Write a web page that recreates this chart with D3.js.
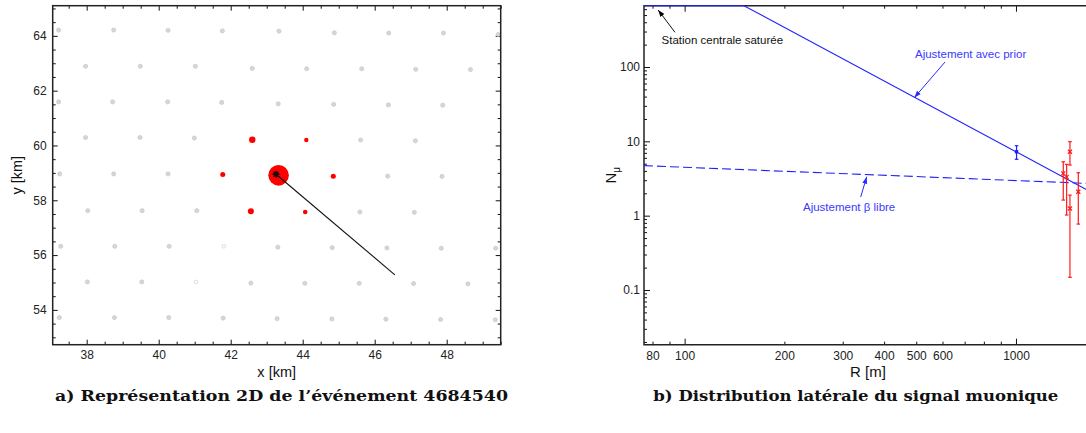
<!DOCTYPE html>
<html><head><meta charset="utf-8">
<script src="https://cdn.jsdelivr.net/npm/d3@7"></script>
<style>
html,body{margin:0;padding:0;background:#fff;}
svg{display:block;font-family:"Liberation Sans",Arial,sans-serif;}
</style></head>
<body>
<svg id="c" width="1086" height="433"></svg>
<script>
// ---------- Panel a data (km) ----------
const gridStationsX = [37.22,38.75,40.26,41.77,43.34,44.88,46.39,47.91,49.43,
  37.97,39.49,41.02,42.60,44.11,45.64,47.14,48.66,
  37.22,38.72,40.25,41.75,43.32,44.86,46.38,47.89,
  37.97,39.48,40.99,45.61,47.13,
  37.25,38.75,40.26,46.36,47.87,
  38.03,39.54,41.06,45.59,47.10,
  37.28,38.78,40.29,43.31,44.82,46.34,47.85,49.36,
  38.02,39.53,42.56,44.06,45.57,47.08,48.59,
  37.24,38.77,40.28,41.79,43.29,44.81,46.31,47.83,49.35];
const gridStationsY = [64.21,64.21,64.20,64.18,64.17,64.11,64.10,64.10,64.05,
  62.89,62.89,62.89,62.81,62.80,62.80,62.78,62.77,
  61.59,61.59,61.59,61.57,61.52,61.50,61.48,61.47,
  60.29,60.29,60.27,60.20,60.17,
  58.96,58.96,58.96,58.88,58.87,
  57.62,57.62,57.62,57.57,57.56,
  56.32,56.32,56.32,56.29,56.27,56.26,56.25,56.25,
  55.02,55.02,54.98,54.97,54.97,54.96,54.95,
  53.72,53.72,53.72,53.70,53.68,53.67,53.66,53.65,53.64];
const silentStationsX = [41.81, 41.04];
const silentStationsY = [56.32, 55.02];
const hitStationsX = [42.60, 44.10, 41.78, 43.33, 44.85, 42.56, 44.07];
const hitStationsY = [60.21, 60.20, 58.94, 58.91, 58.88, 57.60, 57.57];
const hitSignals   = [20, 9, 12, 200, 12, 17, 10];
const coreXY = [43.26, 58.95];
const axisEndXY = [46.56, 55.28];
const xTicksA = [38, 40, 42, 44, 46, 48];
const yTicksA = [54, 56, 58, 60, 62, 64];

// ---------- Panel b data ----------
const redR  = [1389, 1422, 1455, 1455, 1542];
const redN  = [3.71, 3.30, 7.25, 1.25, 2.10];
const redLo = [1.62, 1.02, 4.80, 0.148, 0.77];
const redHi = [5.31, 4.90, 9.90, 1.89, 3.78];
const blueR  = [1004];
const blueN  = [7.24];
const blueLo = [5.73];
const blueHi = [8.73];
const fitPriorR = [75.4, 151, 1696];
const fitPriorN = [668, 668, 2.05];
const fitFreeR = [75.4, 1696];
const fitFreeN = [4.71, 2.70];
const xTicksB = [80, 100, 200, 300, 400, 500, 600, 1000];
const xMinorB = [90, 700, 800, 900];
const yTicksB = [0.1, 1, 10, 100];

const SANS = "'Liberation Sans',Arial,sans-serif";
const SERIF = "'DejaVu Serif','Liberation Serif',serif";

const svg = d3.select("#c");
svg.append("rect").attr("width",1086).attr("height",433).attr("fill","#fff");

const defs = svg.append("defs");
function marker(id, color){
  defs.append("marker").attr("id",id).attr("viewBox","0 0 10 10")
    .attr("refX",10).attr("refY",5).attr("markerWidth",7).attr("markerHeight",7)
    .attr("markerUnits","userSpaceOnUse").attr("orient","auto")
    .append("path").attr("d","M0,1.5 L10,5 L0,8.5 Z").attr("fill",color);
}
marker("ahBlack","#000");
marker("ahBlue","#2a2aff");

// ================= Panel a =================
const A = {l:52.7, r:500.7, t:5.7, b:344.7};
const xa = d3.scaleLinear().domain([37.056, 49.5]).range([A.l, A.r]);
const ya = d3.scaleLinear().domain([52.73, 65.1]).range([A.b, A.t]);
const ga = svg.append("g");

function minorRange(a,b,s){const o=[];for(let v=a;v<=b+1e-9;v+=s)o.push(+v.toFixed(3));return o;}
const xMinorA = minorRange(37.5,49.5,0.5).filter(v=>!xTicksA.includes(v));
const yMinorA = minorRange(53,65,0.5).filter(v=>!yTicksA.includes(v));

function styleAxis(g, size){
  g.select(".domain").remove();
  g.selectAll(".tick line").attr("stroke","#111").attr("stroke-width",1);
  g.selectAll(".tick text").attr("fill","#222").style("font-size",size+"px")
   .style("font-family",SANS);
}
let g;
g = ga.append("g").attr("transform",`translate(0,${A.b})`).call(d3.axisBottom(xa).tickValues(xTicksA).tickSize(-5).tickPadding(6).tickFormat(d3.format("d"))); styleAxis(g,12);
g = ga.append("g").attr("transform",`translate(0,${A.b})`).call(d3.axisBottom(xa).tickValues(xMinorA).tickSize(-3).tickFormat("")); styleAxis(g,12);
g = ga.append("g").attr("transform",`translate(0,${A.t})`).call(d3.axisTop(xa).tickValues(xTicksA).tickSize(-5).tickFormat("")); styleAxis(g,12);
g = ga.append("g").attr("transform",`translate(0,${A.t})`).call(d3.axisTop(xa).tickValues(xMinorA).tickSize(-3).tickFormat("")); styleAxis(g,12);
g = ga.append("g").attr("transform",`translate(${A.l},0)`).call(d3.axisLeft(ya).tickValues(yTicksA).tickSize(-5).tickPadding(6).tickFormat(d3.format("d"))); styleAxis(g,12);
g = ga.append("g").attr("transform",`translate(${A.l},0)`).call(d3.axisLeft(ya).tickValues(yMinorA).tickSize(-3).tickFormat("")); styleAxis(g,12);
g = ga.append("g").attr("transform",`translate(${A.r},0)`).call(d3.axisRight(ya).tickValues(yTicksA).tickSize(-5).tickFormat("")); styleAxis(g,12);
g = ga.append("g").attr("transform",`translate(${A.r},0)`).call(d3.axisRight(ya).tickValues(yMinorA).tickSize(-3).tickFormat("")); styleAxis(g,12);

// stations
ga.append("g").selectAll("circle").data(d3.range(gridStationsX.length)).join("circle")
  .attr("cx",i=>xa(gridStationsX[i])).attr("cy",i=>ya(gridStationsY[i])).attr("r",2.1)
  .attr("fill","#d6d6d6").attr("stroke","#c4c4c4").attr("stroke-width",0.6);
ga.append("g").selectAll("circle").data(d3.range(silentStationsX.length)).join("circle")
  .attr("cx",i=>xa(silentStationsX[i])).attr("cy",i=>ya(silentStationsY[i])).attr("r",1.8)
  .attr("fill","#fff").attr("stroke","#cfcfcf").attr("stroke-width",0.7);
const rScale = d3.scaleSqrt().domain([0,200]).range([0,10.3]);
ga.append("g").selectAll("circle").data(d3.range(hitStationsX.length)).join("circle")
  .attr("cx",i=>xa(hitStationsX[i])).attr("cy",i=>ya(hitStationsY[i])).attr("r",i=>rScale(hitSignals[i]))
  .attr("fill","#ff0000");
ga.append("line").attr("x1",xa(coreXY[0])).attr("y1",ya(coreXY[1]))
  .attr("x2",xa(axisEndXY[0])).attr("y2",ya(axisEndXY[1])).attr("stroke","#111").attr("stroke-width",1.1);
const cx0 = xa(coreXY[0]), cy0 = ya(coreXY[1]);
ga.append("path").attr("d",`M${cx0-3.5},${cy0}H${cx0+3.5}M${cx0},${cy0-3.5}V${cy0+3.5}M${cx0-2.5},${cy0-2.5}L${cx0+2.5},${cy0+2.5}M${cx0-2.5},${cy0+2.5}L${cx0+2.5},${cy0-2.5}`)
  .attr("stroke","#111").attr("stroke-width",1.3);
ga.append("rect").attr("x",A.l).attr("y",A.t).attr("width",A.r-A.l).attr("height",A.b-A.t)
  .attr("fill","none").attr("stroke","#222").attr("stroke-width",1.5);
ga.append("text").attr("x",(A.l+A.r)/2).attr("y",377).attr("text-anchor","middle").style("font-size","14.5px").style("font-family",SANS).attr("fill","#111").text("x [km]");
ga.append("text").attr("transform",`translate(22,${(A.t+A.b)/2}) rotate(-90)`).attr("text-anchor","middle").style("font-size","14.5px").style("font-family",SANS).attr("fill","#111").text("y [km]");

// ================= Panel b =================
const B = {l:644, r:1092, t:5.7, b:344.7};
const xb = d3.scaleLog().domain([75.4, 1696]).range([B.l, B.r]);
const yb = d3.scaleLog().domain([0.01836, 668]).range([B.b, B.t]);
const gb = svg.append("g");
const xMajorLong = [100, 1000];
const xShort = xTicksB.filter(v=>!xMajorLong.includes(v)).concat(xMinorB);
const yMinorB = [];
[0.01,0.1,1,10,100].forEach(p=>{for(let k=2;k<=9;k++){const v=+(p*k).toPrecision(3); if(v>0.01836 && v<668) yMinorB.push(v);}});
const fmtB = d=> d<1 ? String(d) : d3.format("d")(d);

g = gb.append("g").attr("transform",`translate(0,${B.b})`).call(d3.axisBottom(xb).tickValues(xTicksB).tickSize(0).tickPadding(7).tickFormat(fmtB)); styleAxis(g,12);
g = gb.append("g").attr("transform",`translate(0,${B.b})`).call(d3.axisBottom(xb).tickValues(xMajorLong).tickSize(-6).tickFormat("")); styleAxis(g,12);
g = gb.append("g").attr("transform",`translate(0,${B.b})`).call(d3.axisBottom(xb).tickValues(xShort).tickSize(-3).tickFormat("")); styleAxis(g,12);
g = gb.append("g").attr("transform",`translate(0,${B.t})`).call(d3.axisTop(xb).tickValues(xMajorLong).tickSize(-6).tickFormat("")); styleAxis(g,12);
g = gb.append("g").attr("transform",`translate(0,${B.t})`).call(d3.axisTop(xb).tickValues(xShort).tickSize(-3).tickFormat("")); styleAxis(g,12);
g = gb.append("g").attr("transform",`translate(${B.l},0)`).call(d3.axisLeft(yb).tickValues(yTicksB).tickSize(-6).tickPadding(4).tickFormat(fmtB)); styleAxis(g,12);
g = gb.append("g").attr("transform",`translate(${B.l},0)`).call(d3.axisLeft(yb).tickValues(yMinorB).tickSize(-3).tickFormat("")); styleAxis(g,12);

gb.append("path").attr("d",`M${B.r},${B.t}H${B.l}V${B.b}H${B.r}`).attr("fill","none").attr("stroke","#222").attr("stroke-width",1.5);

const lineB = d3.line().x(d=>xb(d[0])).y(d=>yb(d[1]));
gb.append("path").datum(fitPriorR.map((r,i)=>[r,fitPriorN[i]])).attr("d",lineB)
  .attr("fill","none").attr("stroke","#2020ff").attr("stroke-width",1.1);
gb.append("path").datum(fitFreeR.map((r,i)=>[r,fitFreeN[i]])).attr("d",lineB)
  .attr("fill","none").attr("stroke","#2020ff").attr("stroke-width",1.1).attr("stroke-dasharray","9,4");

function errBars(R,N,Lo,Hi,color,mk){
  const gg = gb.append("g");
  R.forEach((r,i)=>{
    const x = xb(r);
    gg.append("line").attr("x1",x).attr("x2",x).attr("y1",yb(Lo[i])).attr("y2",yb(Hi[i])).attr("stroke",color).attr("stroke-width",1.2);
    [Lo[i],Hi[i]].forEach(v=>gg.append("line").attr("x1",x-1.8).attr("x2",x+1.8).attr("y1",yb(v)).attr("y2",yb(v)).attr("stroke",color).attr("stroke-width",1.2));
    const y = yb(N[i]);
    if(mk==="x"){
      gg.append("path").attr("d",`M${x-2},${y-2}L${x+2},${y+2}M${x-2},${y+2}L${x+2},${y-2}`).attr("stroke",color).attr("stroke-width",1.3);
    } else {
      gg.append("rect").attr("x",x-1.7).attr("y",y-1.7).attr("width",3.4).attr("height",3.4).attr("fill",color);
    }
  });
}
errBars(blueR,blueN,blueLo,blueHi,"#2020ff","s");
errBars(redR,redN,redLo,redHi,"#ff1a1a","x");

gb.append("line").attr("x1",xb(93.5)).attr("y1",yb(293)).attr("x2",xb(83.2)).attr("y2",yb(585))
  .attr("stroke","#111").attr("stroke-width",1).attr("marker-end","url(#ahBlack)");
gb.append("text").attr("x",xb(85.2)).attr("y",yb(204)).style("font-size","11.5px").style("font-family",SANS).attr("fill","#111").text("Station centrale saturée");
gb.append("text").attr("x",915).attr("y",57.5).style("font-size","11.5px").style("font-family",SANS).attr("fill","#3a3aff").text("Ajustement avec prior");
gb.append("line").attr("x1",945).attr("y1",62).attr("x2",914.3).attr("y2",97.7)
  .attr("stroke","#2a2aff").attr("stroke-width",1).attr("marker-end","url(#ahBlue)");
gb.append("text").attr("x",803).attr("y",211).style("font-size","11.5px").style("font-family",SANS).attr("fill","#3a3aff").text("Ajustement β libre");
gb.append("line").attr("x1",860.7).attr("y1",197).attr("x2",866.7).attr("y2",176.7)
  .attr("stroke","#2a2aff").attr("stroke-width",1).attr("marker-end","url(#ahBlue)");

gb.append("text").attr("x",(B.l+B.r)/2).attr("y",377).attr("text-anchor","middle").style("font-size","15px").style("font-family",SANS).attr("fill","#111").text("R [m]");
const nt = gb.append("text").attr("transform",`translate(616,${(B.t+B.b)/2}) rotate(-90)`).attr("text-anchor","middle").style("font-size","15px").style("font-family",SANS).attr("fill","#111");
nt.append("tspan").text("N");
nt.append("tspan").style("font-size","10px").attr("dy",4).text("μ");

// captions
svg.append("text").attr("x",281.5).attr("y",401).attr("text-anchor","middle")
  .style("font-family",SERIF).style("font-weight","bold").style("font-size","15.5px")
  .attr("textLength",453).attr("lengthAdjust","spacingAndGlyphs").attr("fill","#111")
  .text("a) Représentation 2D de l’événement 4684540");
svg.append("text").attr("x",855.8).attr("y",401).attr("text-anchor","middle")
  .style("font-family",SERIF).style("font-weight","bold").style("font-size","15.5px")
  .attr("textLength",405).attr("lengthAdjust","spacingAndGlyphs").attr("fill","#111")
  .text("b) Distribution latérale du signal muonique");
</script>
</body></html>
